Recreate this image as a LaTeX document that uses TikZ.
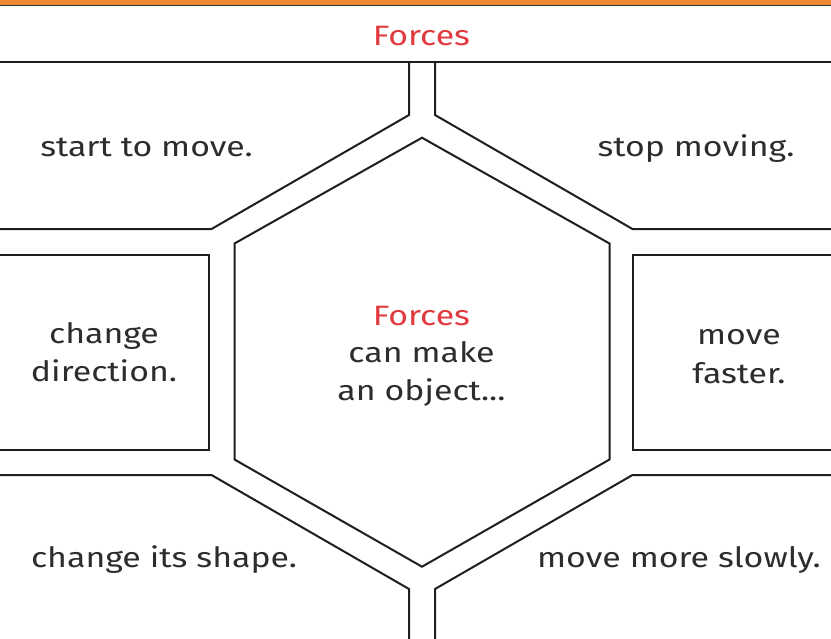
\documentclass[tikz,border=0pt]{standalone}
\usepackage{fontspec}
\setmainfont{Fira Sans}[FakeStretch=1.21]
\usepackage{tikz}
\usetikzlibrary{positioning}
\definecolor{inkgray}{RGB}{45,45,45}
\definecolor{forcered}{RGB}{224,58,62}
\definecolor{barorange}{RGB}{239,136,50}
\definecolor{linegray}{RGB}{30,30,30}

\begin{document}
\begin{tikzpicture}[x=1pt, y=-1pt, line width=2pt,
  every node/.style={font=\fontsize{28}{38.5}\selectfont, text=inkgray, align=center, inner sep=0pt, anchor=base},
  cell/.style={draw=linegray, line join=miter}]
\useasboundingbox (0,0) rectangle (831,638);
\fill[white] (0,0) rectangle (831,638);
% top bar and title
\fill[barorange] (0,0) rectangle (831,5);
\draw[line width=1pt, black!80] (0,5.5) -- (831,5.5);
\node[text=forcered] (title) at (421.5,45) {Forces};
\draw[cell] (0,61.7) -- (831,61.7);
% cells round the hexagon
\draw[cell] (409,61.7) -- (409,115) -- (211.5,229) -- (0,229);
\draw[cell] (435,61.7) -- (435,115) -- (632.5,229) -- (831,229);
\draw[cell] (0,255) -- (209,255) -- (209,449.5) -- (0,449.5);
\draw[cell] (831,255) -- (633,255) -- (633,449.5) -- (831,449.5);
\draw[cell] (0,475) -- (211.5,475) -- (409,589) -- (409,640);
\draw[cell] (831,475) -- (632.5,475) -- (435,589) -- (435,640);
% hexagon
\draw[cell] (422,137.7) -- (609.5,243.5) -- (609.5,459.5) -- (422,566.7)
  -- (234.5,459.5) -- (234.5,243.5) -- cycle;
% texts (base = last line)
\node (start) at (146.5,156.5) {start to move.};
\node (stop) at (696,156.5) {stop moving.};
\node (direction) at (104,381.7) {change\\direction.};
\node (faster) at (739,383) {move\\faster.};
\node[font=\fontsize{28}{37.5}\selectfont] (centre) at (421.5,400) {\textcolor{forcered}{Forces}\\can make\\an object...};
\node (shape) at (164,567) {change its shape.};
\node (slowly) at (679,567) {move more slowly.};
\end{tikzpicture}
\end{document}
